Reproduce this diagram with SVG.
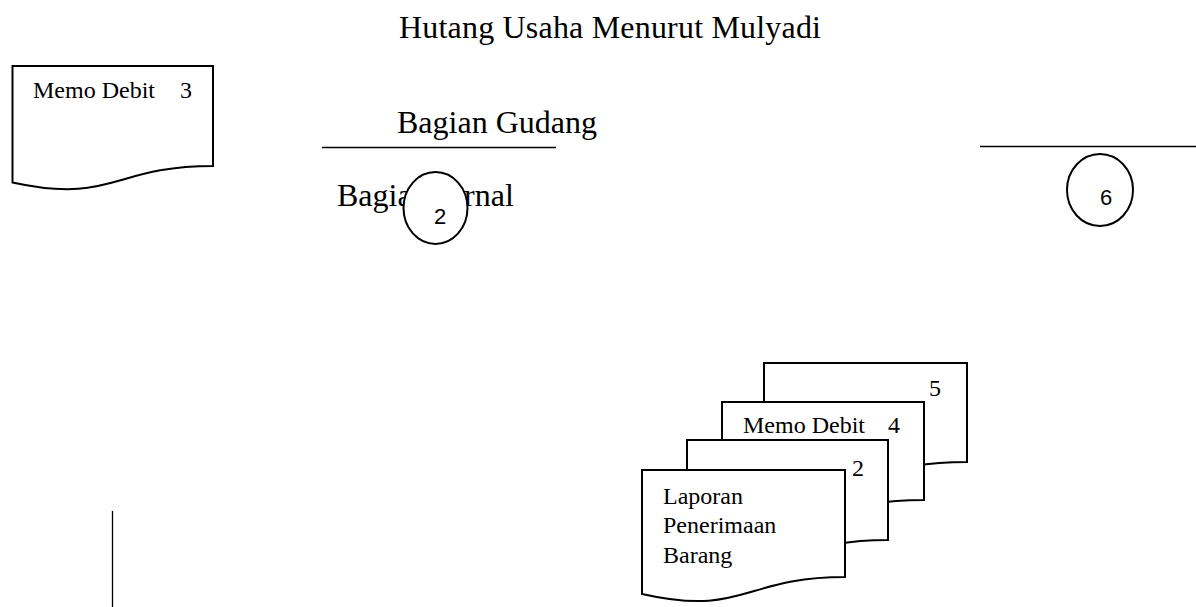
<svg xmlns="http://www.w3.org/2000/svg" width="1196" height="607" viewBox="0 0 1196 607">
<style>
.serif{font-family:"Liberation Serif","Times New Roman",serif;fill:#000}
.t32{font-size:32px}
.t24{font-size:24px}
.num{font-family:"Liberation Sans",Arial,sans-serif;font-size:22px;fill:#000}
.doc{fill:#fff;stroke:#000;stroke-width:2;stroke-linejoin:miter}
.conn{fill:#fff;stroke:#000;stroke-width:2}
.rule{stroke:#000;stroke-width:1.3;fill:none}
</style>
<rect width="1196" height="607" fill="#fff"/>
<g id="title"><text class="serif t32" x="399" y="38" textLength="422">Hutang Usaha Menurut Mulyadi</text></g>
<g id="lines">
<line class="rule" x1="322" y1="147.5" x2="556" y2="147.5"/>
<line class="rule" x1="980" y1="146.5" x2="1196" y2="146.5"/>
<line class="rule" x1="112.5" y1="511" x2="112.5" y2="607"/>
</g>
<g id="doc-memo-debit-3">
<path class="doc" d="M12.5,66 H213 V166 C112.75,166 112.75,204.5 12.5,182.5 Z"/>
<text class="serif t24" x="33" y="98">Memo Debit</text>
<text class="serif t24" x="180" y="98">3</text>
</g>
<g id="lane-gudang"><text class="serif t32" x="397" y="133">Bagian Gudang</text></g>
<g id="lane-jurnal"><text class="serif t32" x="337" y="206">Bagian Jurnal</text></g>
<g id="connector-2">
<ellipse class="conn" cx="435.5" cy="208" rx="32" ry="36"/>
<text class="num" x="440" y="224" text-anchor="middle">2</text>
</g>
<g id="connector-6">
<ellipse class="conn" cx="1100" cy="190" rx="33" ry="36"/>
<text class="num" x="1106" y="205" text-anchor="middle">6</text>
</g>
<g id="doc-5">
<path class="doc" d="M764,363 H967 V462 C865.5,462 865.5,499 764,478 Z"/>
<text class="serif t24" x="929" y="396">5</text>
</g>
<g id="doc-memo-debit-4">
<path class="doc" d="M722,402 H924 V500 C823,500 823,537 722,516 Z"/>
<text class="serif t24" x="743" y="433">Memo Debit</text>
<text class="serif t24" x="888" y="433">4</text>
</g>
<g id="doc-2">
<path class="doc" d="M687,440 H888 V540 C787.5,540 787.5,578 687,557 Z"/>
<text class="serif t24" x="852" y="476">2</text>
</g>
<g id="doc-laporan">
<path class="doc" d="M642,470 H845 V577 C743.5,577 743.5,617 642,594 Z"/>
<text class="serif t24" x="663" y="504">Laporan</text>
<text class="serif t24" x="663" y="533">Penerimaan</text>
<text class="serif t24" x="663" y="563">Barang</text>
</g>
</svg>
